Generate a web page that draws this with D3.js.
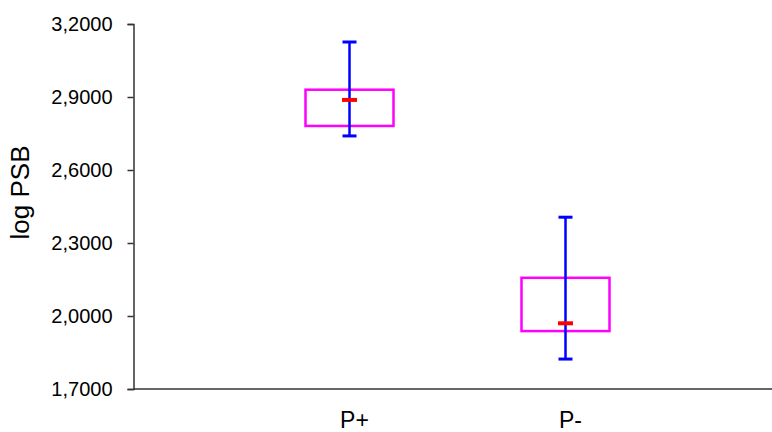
<!DOCTYPE html>
<html lang="en">
<head>
    <meta charset="UTF-8">
    <title>log PSB</title>
    <script src="https://d3js.org/d3.v7.min.js"></script>
    <style>
        body { margin: 0; background: #fff; }
        text { font-family: "Liberation Sans", Arial, sans-serif; fill: #000; }
    </style>
</head>
<body>
    <div id="chart"></div>
    <script>
        // data
        const categories = ["P+", "P-"];
        const whiskerLow = [2.740, 1.823];
        const boxLow = [2.781, 1.938];
        const medians = [2.888, 1.970];
        const boxHigh = [2.930, 2.157];
        const whiskerHigh = [3.126, 2.406];
        const yTicks = [1.7, 2.0, 2.3, 2.6, 2.9, 3.2];

        const width = 772;
        const height = 432;

        const svg = d3.select("#chart")
            .append("svg")
            .attr("width", width)
            .attr("height", height);

        // category i sits at position i + 1 on a 0..3 scale
        const x = d3.scaleLinear().domain([0, 3]).range([133.5, 781.5]);
        const y = d3.scaleLinear().domain([1.7, 3.2]).range([389, 24]);

        const rows = categories.map((c, i) => ({
            name: c, pos: i + 1,
            wl: whiskerLow[i], bl: boxLow[i], med: medians[i],
            bh: boxHigh[i], wh: whiskerHigh[i]
        }));

        // y axis
        const yAxis = svg.append("g")
            .attr("transform", `translate(${x(0)},0)`)
            .call(d3.axisLeft(y)
                .tickValues(yTicks)
                .tickSize(6)
                .tickPadding(15)
                .tickFormat(d => d3.format(".4f")(d).replace(".", ",")));
        yAxis.attr("font-size", null).attr("font-family", null);
        yAxis.select(".domain").attr("stroke", "#333").attr("stroke-width", 1.5);
        yAxis.selectAll(".tick line").attr("stroke", "#333").attr("stroke-width", 1.5);
        yAxis.selectAll(".tick text")
            .style("font-size", "20px")
            .attr("fill", "#000");

        // x axis line
        svg.append("line")
            .attr("x1", x(0)).attr("x2", width)
            .attr("y1", y(1.7)).attr("y2", y(1.7))
            .attr("stroke", "#333").attr("stroke-width", 1.5);

        // category labels
        svg.selectAll(".cat")
            .data(rows)
            .join("text")
            .attr("class", "cat")
            .attr("x", d => x(d.pos) + 5)
            .attr("y", 428)
            .attr("text-anchor", "middle")
            .style("font-size", "23px")
            .text(d => d.name);

        // y title
        svg.append("text")
            .attr("transform", `translate(29,${(y(1.7) + y(3.2)) / 2 - 14}) rotate(-90)`)
            .attr("text-anchor", "middle")
            .style("font-size", "26px")
            .text("log PSB");

        const boxW = 88;
        const g = svg.append("g");

        // boxes
        g.selectAll(".box")
            .data(rows)
            .join("rect")
            .attr("x", d => x(d.pos) - boxW / 2)
            .attr("y", d => y(d.bh))
            .attr("width", boxW)
            .attr("height", d => y(d.bl) - y(d.bh))
            .attr("fill", "none")
            .attr("stroke", "#ff00ff")
            .attr("stroke-width", 2.5);

        // whiskers
        g.selectAll(".whisk")
            .data(rows)
            .join("line")
            .attr("x1", d => x(d.pos)).attr("x2", d => x(d.pos))
            .attr("y1", d => y(d.wl)).attr("y2", d => y(d.wh))
            .attr("stroke", "#0000ff")
            .attr("stroke-width", 2.5);

        ["wl", "wh"].forEach(k => {
            g.selectAll(".cap-" + k)
                .data(rows)
                .join("line")
                .attr("x1", d => x(d.pos) - 7).attr("x2", d => x(d.pos) + 7)
                .attr("y1", d => y(d[k])).attr("y2", d => y(d[k]))
                .attr("stroke", "#0000ff")
                .attr("stroke-width", 3);
        });

        // medians
        g.selectAll(".med")
            .data(rows)
            .join("line")
            .attr("x1", d => x(d.pos) - 7.5).attr("x2", d => x(d.pos) + 7.5)
            .attr("y1", d => y(d.med)).attr("y2", d => y(d.med))
            .attr("stroke", "#ff0000")
            .attr("stroke-width", 4);
    </script>
</body>
</html>
